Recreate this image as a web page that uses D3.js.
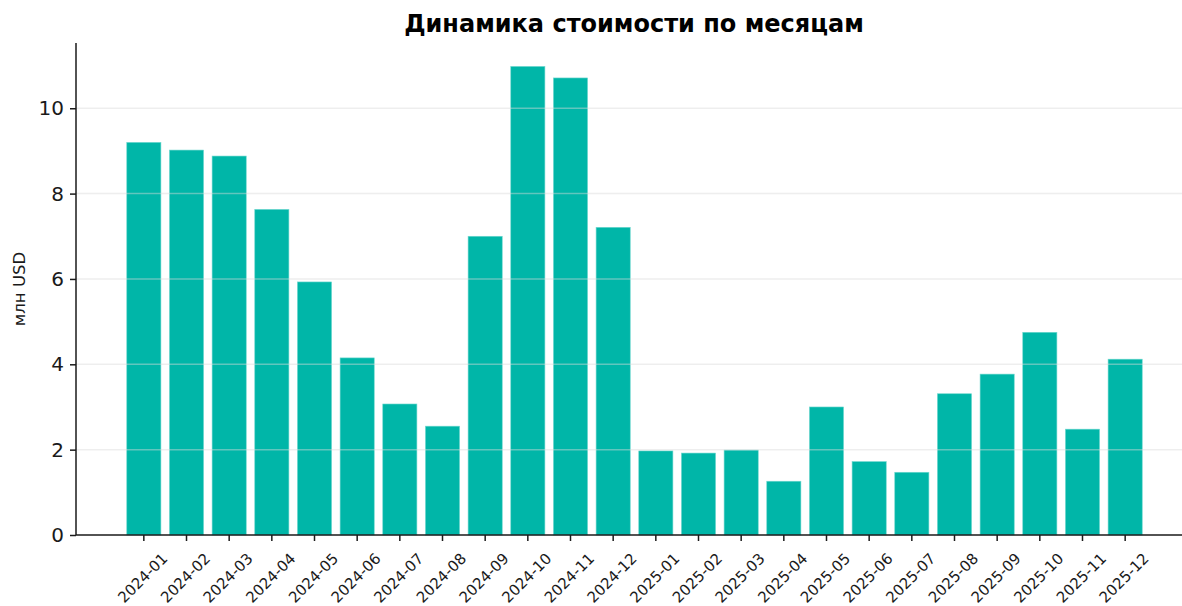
<!DOCTYPE html>
<html>
<head>
<meta charset="utf-8">
<script src="https://cdn.jsdelivr.net/npm/d3@7"></script>
<style>
  body { margin: 0; background: #fff; }
  svg { display: block; font-family: "DejaVu Sans", sans-serif; }
</style>
</head>
<body>
<div id="chart"></div>
<script>
// data
const months = [
    "2024-01", "2024-02", "2024-03", "2024-04", "2024-05", "2024-06",
    "2024-07", "2024-08", "2024-09", "2024-10", "2024-11", "2024-12",
    "2025-01", "2025-02", "2025-03", "2025-04", "2025-05", "2025-06",
    "2025-07", "2025-08", "2025-09", "2025-10", "2025-11", "2025-12"
];
const values = [
    9.20, 9.02, 8.88, 7.63, 5.93, 4.15, 3.07, 2.55, 7.00, 10.98, 10.71, 7.21,
    1.97, 1.92, 1.99, 1.26, 3.00, 1.72, 1.47, 3.31, 3.77, 4.75, 2.48, 4.12
];
const yTicks = [0, 2, 4, 6, 8, 10];
const titleText = "Динамика стоимости по месяцам";
const yLabel = "млн USD";

const config = {
    width: 1182,
    height: 606,
    margin: { top: 43, left: 76, bottom: 71, right: -11 },
    barColor: "#00b6a8",
    gridColor: "#d9d9d9",
};

const svg = d3.select("#chart")
    .append("svg")
    .attr("width", config.width)
    .attr("height", config.height);

const plotBottom = config.height - config.margin.bottom;
const plotRight = config.width - config.margin.right;

// bars sit at 0..n-1 with width .8, plus 5% padding on each side
const n = months.length;
const lo = -0.4 - 0.05 * (n - 1 + 0.8), hi = n - 1 + 0.4 + 0.05 * (n - 1 + 0.8);
const scale_idx = d3.scaleLinear().domain([lo, hi]).range([config.margin.left, plotRight]);
const scale_x = d3.scaleBand()
    .domain(months)
    .range([scale_idx(-0.5), scale_idx(n - 0.5)])
    .paddingInner(0.2)
    .paddingOuter(0.1);

const scale_y = d3.scaleLinear()
    .domain([0, d3.max(values) * 1.05])
    .range([plotBottom, config.margin.top]);

// bars
svg.append("g")
    .selectAll("rect")
    .data(values)
    .join("rect")
    .attr("x", (d, i) => scale_x(months[i]))
    .attr("y", d => scale_y(d))
    .attr("width", scale_x.bandwidth())
    .attr("height", d => plotBottom - scale_y(d))
    .attr("fill", config.barColor)
    .attr("stroke", "#6fd8cf")
    .attr("stroke-width", 0.6);

// grid on top of the bars
svg.append("g")
    .selectAll("line")
    .data(yTicks.filter(d => d > 0))
    .join("line")
    .attr("x1", config.margin.left)
    .attr("x2", plotRight)
    .attr("y1", d => scale_y(d))
    .attr("y2", d => scale_y(d))
    .attr("stroke", config.gridColor)
    .attr("stroke-opacity", 0.45)
    .attr("stroke-width", 1.5);

// axes
const axis_left = d3.axisLeft(scale_y).tickValues(yTicks).tickSize(6).tickPadding(6);
const g_axisY = svg.append("g")
    .attr("transform", `translate(${config.margin.left}, 0)`)
    .call(axis_left);
g_axisY.select(".domain").attr("d", `M0,${plotBottom}V${config.margin.top}`);
g_axisY.selectAll("text").attr("font-size", 20).attr("font-family", "DejaVu Sans").attr("fill", "#1a1a1a");

const axis_bottom = d3.axisBottom(scale_x).tickSize(6).tickFormat(d => d);
const g_axisX = svg.append("g")
    .attr("transform", `translate(0, ${plotBottom})`)
    .call(axis_bottom);
g_axisX.select(".domain").attr("d", `M${config.margin.left},0H${plotRight}`);
g_axisX.selectAll("text")
    .attr("font-size", 15)
    .attr("font-family", "DejaVu Sans")
    .attr("fill", "#1a1a1a")
    .attr("text-anchor", "middle")
    .attr("dominant-baseline", "central")
    .attr("y", 0)
    .attr("dy", null)
    .attr("transform", "translate(-1, 43) rotate(-45)");

[g_axisX, g_axisY].forEach(g => {
    g.selectAll(".domain").attr("stroke", "#1a1a1a").attr("stroke-width", 1.5);
    g.selectAll(".tick line").attr("stroke", "#1a1a1a").attr("stroke-width", 1.5);
});

// title + y label
svg.append("text")
    .attr("x", 634)
    .attr("y", 32)
    .attr("text-anchor", "middle")
    .attr("font-size", 24)
    .attr("font-weight", "bold")
    .attr("fill", "#000")
    .text(titleText);

svg.append("text")
    .attr("transform", `translate(25, ${(config.margin.top + plotBottom) / 2}) rotate(-90)`)
    .attr("text-anchor", "middle")
    .attr("font-size", 16.5)
    .attr("fill", "#1a1a1a")
    .text(yLabel);
</script>
</body>
</html>
